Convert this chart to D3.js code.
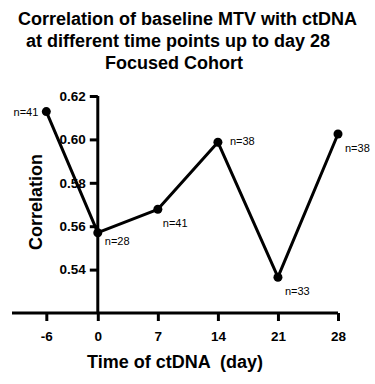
<!DOCTYPE html>
<html>
<head>
<meta charset="utf-8">
<script src="https://cdn.jsdelivr.net/npm/d3@7"></script>
<style>
  body { margin: 0; background: #fff; }
  text { font-family: "Liberation Sans", Arial, sans-serif; }
</style>
</head>
<body>
<div id="chart"></div>
<script>
// data
var days = [-6, 0, 7, 14, 21, 28];
var correlation = [0.6128, 0.557, 0.5678, 0.5987, 0.5365, 0.6025];
var nLabels = ["n=41", "n=28", "n=41", "n=38", "n=33", "n=38"];
var yTicks = [0.54, 0.56, 0.58, 0.60, 0.62];
var titleLines = ["Correlation of baseline MTV with ctDNA", "at different time points up to day 28", "Focused Cohort"];

var width = 375, height = 384;

var svg = d3.select("#chart").append("svg")
  .attr("width", width)
  .attr("height", height);

var x = d3.scaleLinear().domain([-10, 28]).range([12, 338]);
var y = d3.scaleLinear().domain([0.52, 0.62]).range([313, 96]);

/* title */
var titleX = [187.5, 178, 174];
svg.selectAll(".title-line")
  .data(titleLines).enter()
  .append("text")
  .attr("class", "title-line")
  .attr("x", (d, i) => titleX[i])
  .attr("y", (d, i) => 25 + i * 22)
  .attr("text-anchor", "middle")
  .style("font-size", "18px")
  .style("font-weight", "bold")
  .text(d => d);

/* axes */
var xAxis = svg.append("g")
  .attr("transform", `translate(0,${y(0.52)})`)
  .call(d3.axisBottom(x).tickValues(days).tickSize(8).tickPadding(10).tickFormat(d => String(d)));
xAxis.select(".domain").attr("d", `M${x(-10)},0H${x(28)}`);

var yAxis = svg.append("g")
  .attr("transform", `translate(${x(0)},0)`)
  .call(d3.axisLeft(y).tickValues(yTicks).tickSize(8).tickPadding(4).tickFormat(d3.format(".2f")));
yAxis.select(".domain").attr("d", `M0,${y(0.62)}V${y(0.52)}`);

svg.selectAll(".domain, .tick line")
  .attr("stroke", "#000")
  .attr("stroke-width", 3);
svg.selectAll(".tick text")
  .attr("fill", "#000")
  .style("font-size", "13.5px")
  .style("font-weight", "bold")
  .style("font-family", "'Liberation Sans', Arial, sans-serif");

/* axis titles */
svg.append("text")
  .attr("x", 175)
  .attr("y", 368)
  .attr("text-anchor", "middle")
  .style("font-size", "18px")
  .style("font-weight", "bold")
  .style("white-space", "pre")
  .text("Time of ctDNA  (day)");

svg.append("text")
  .attr("transform", "translate(42,202) rotate(-90)")
  .attr("text-anchor", "middle")
  .style("font-size", "18px")
  .style("font-weight", "bold")
  .text("Correlation");

/* line + points */
var pts = days.map((d, i) => ({ day: d, r: correlation[i], n: nLabels[i] }));

var line = d3.line()
  .x(d => x(d.day))
  .y(d => y(d.r));

svg.append("path")
  .datum(pts)
  .attr("d", line)
  .attr("fill", "none")
  .attr("stroke", "#000")
  .attr("stroke-width", 3)
  .attr("stroke-linejoin", "round");

svg.selectAll(".pt")
  .data(pts).enter()
  .append("circle")
  .attr("class", "pt")
  .attr("cx", d => x(d.day))
  .attr("cy", d => y(d.r))
  .attr("r", 4.5)
  .attr("fill", "#000");

/* n labels: offsets from each point */
var labelDx = [-8, 7, 5, 12, 7, 7];
var labelDy = [4, 12, 18, 3, 18, 18];
svg.selectAll(".nlab")
  .data(pts).enter()
  .append("text")
  .attr("class", "nlab")
  .attr("x", (d, i) => x(d.day) + labelDx[i])
  .attr("y", (d, i) => y(d.r) + labelDy[i])
  .attr("text-anchor", (d, i) => i === 0 ? "end" : "start")
  .style("font-size", "11px")
  .text(d => d.n);
</script>
</body>
</html>
